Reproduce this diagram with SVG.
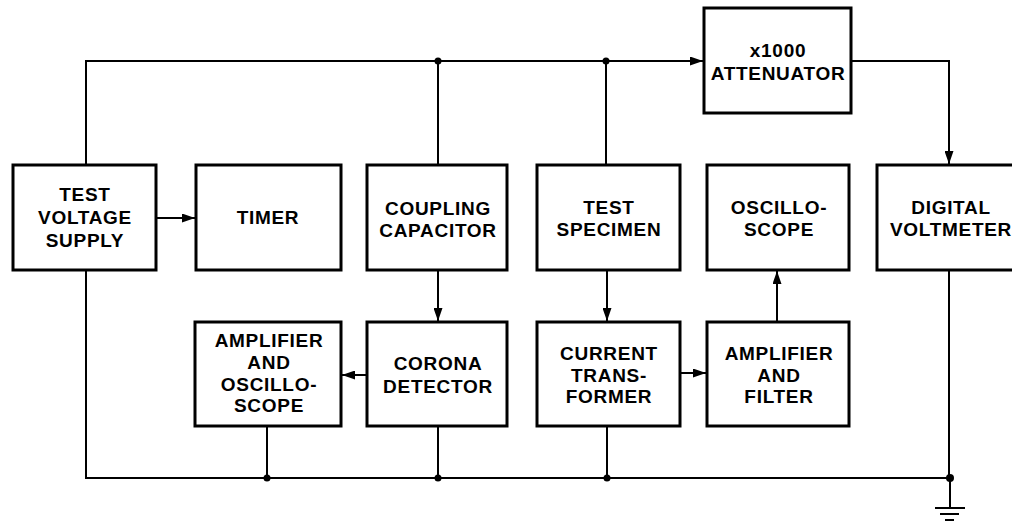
<svg xmlns="http://www.w3.org/2000/svg" width="1012" height="523" viewBox="0 0 1012 523">
<style>
.box{fill:#fff;stroke:#000;stroke-width:3}
.w{fill:none;stroke:#000;stroke-width:2}
.t{font-family:"Liberation Sans",Arial,sans-serif;font-weight:bold;font-size:19px;letter-spacing:0.7px;text-anchor:middle;fill:#000}
.dot{fill:#000}
</style>
<defs>
<marker id="ah" viewBox="0 0 13 9" refX="13" refY="4.5" markerWidth="13" markerHeight="9" markerUnits="userSpaceOnUse" orient="auto">
<path d="M0,0 L13,4.5 L0,9 Z" fill="#000"/>
</marker>
</defs>
<rect width="1012" height="523" fill="#fff"/>
<g id="connectors">
<path class="w" d="M86,165 V61 H703" marker-end="url(#ah)"/>
<path class="w" d="M851,61 H949 V164" marker-end="url(#ah)"/>
<path class="w" d="M438,61 V165"/>
<path class="w" d="M606,61 V165"/>
<path class="w" d="M156,218 H195" marker-end="url(#ah)"/>
<path class="w" d="M438,270 V321" marker-end="url(#ah)"/>
<path class="w" d="M607,270 V321" marker-end="url(#ah)"/>
<path class="w" d="M367,375 H342" marker-end="url(#ah)"/>
<path class="w" d="M680,373 H706" marker-end="url(#ah)"/>
<path class="w" d="M777,322 V271" marker-end="url(#ah)"/>
<path class="w" d="M86,270 V478 H950"/>
<path class="w" d="M267,426 V478"/>
<path class="w" d="M438,426 V478"/>
<path class="w" d="M607,426 V478"/>
<path class="w" d="M949,270 V478"/>
<path class="w" d="M950,478 V508"/>
<path class="w" d="M935,508 H965 M940,514 H959 M945,520 H954"/>
<circle class="dot" cx="438" cy="61" r="3.5"/>
<circle class="dot" cx="606" cy="61" r="3.5"/>
<circle class="dot" cx="267" cy="478" r="3.5"/>
<circle class="dot" cx="438" cy="478" r="3.5"/>
<circle class="dot" cx="607" cy="478" r="3.5"/>
<circle class="dot" cx="950" cy="478" r="4"/>
</g>
<g id="test-voltage-supply">
<rect class="box" x="13" y="165" width="143" height="105"/>
<text class="t" x="85" y="201">TEST</text>
<text class="t" x="85" y="224">VOLTAGE</text>
<text class="t" x="85" y="247">SUPPLY</text>
</g>
<g id="timer">
<rect class="box" x="196" y="165" width="145" height="105"/>
<text class="t" x="268" y="224">TIMER</text>
</g>
<g id="coupling-capacitor">
<rect class="box" x="367" y="165" width="140" height="105"/>
<text class="t" x="438" y="215">COUPLING</text>
<text class="t" x="438" y="237">CAPACITOR</text>
</g>
<g id="test-specimen">
<rect class="box" x="537" y="165" width="143" height="105"/>
<text class="t" x="609" y="214">TEST</text>
<text class="t" x="609" y="236">SPECIMEN</text>
</g>
<g id="oscilloscope">
<rect class="box" x="707" y="165" width="142" height="105"/>
<text class="t" x="779" y="214">OSCILLO-</text>
<text class="t" x="779" y="236">SCOPE</text>
</g>
<g id="digital-voltmeter">
<rect class="box" x="877" y="165" width="140" height="105"/>
<text class="t" x="951" y="214">DIGITAL</text>
<text class="t" x="951" y="236">VOLTMETER</text>
</g>
<g id="attenuator">
<rect class="box" x="704" y="8" width="147" height="105"/>
<text class="t" x="778" y="57">x1000</text>
<text class="t" x="778" y="80">ATTENUATOR</text>
</g>
<g id="amplifier-oscilloscope">
<rect class="box" x="195" y="322" width="146" height="104"/>
<text class="t" x="269" y="347">AMPLIFIER</text>
<text class="t" x="269" y="369">AND</text>
<text class="t" x="269" y="391">OSCILLO-</text>
<text class="t" x="269" y="412">SCOPE</text>
</g>
<g id="corona-detector">
<rect class="box" x="367" y="322" width="140" height="104"/>
<text class="t" x="438" y="370">CORONA</text>
<text class="t" x="438" y="393">DETECTOR</text>
</g>
<g id="current-transformer">
<rect class="box" x="537" y="322" width="143" height="104"/>
<text class="t" x="609" y="360">CURRENT</text>
<text class="t" x="609" y="382">TRANS-</text>
<text class="t" x="609" y="403">FORMER</text>
</g>
<g id="amplifier-filter">
<rect class="box" x="707" y="322" width="142" height="104"/>
<text class="t" x="779" y="360">AMPLIFIER</text>
<text class="t" x="779" y="382">AND</text>
<text class="t" x="779" y="403">FILTER</text>
</g>
</svg>
